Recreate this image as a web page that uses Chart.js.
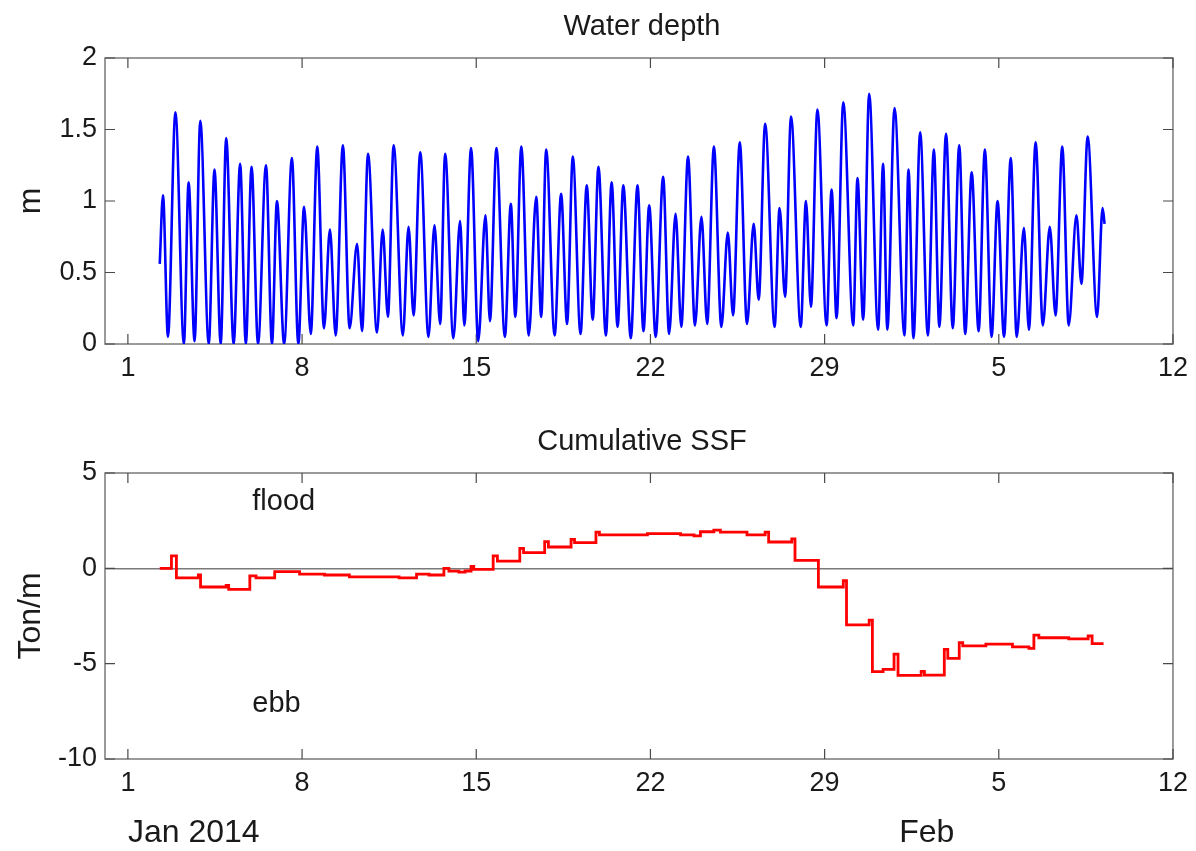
<!DOCTYPE html>
<html><head><meta charset="utf-8">
<script src="https://cdn.jsdelivr.net/npm/chart.js@4.4.1/dist/chart.umd.min.js"></script>
<style>
html,body{margin:0;padding:0;background:#fff;width:1196px;height:851px;overflow:hidden}
canvas{position:absolute;left:0}
#c1{top:0}
#c2{top:400px}
</style></head><body>
<canvas id="c1" width="1196" height="400"></canvas>
<canvas id="c2" width="1196" height="451"></canvas>
<script>
// ---------- data ----------
const xTickValues = [1, 8, 15, 22, 29, 36, 43];
const xTickLabels = ['1', '8', '15', '22', '29', '5', '12'];
const monthLabelDays = [1, 32];
const monthLabels = ['Jan 2014', 'Feb'];

const depthTicks = [0, 0.5, 1, 1.5, 2];
const ssfTicks = [-10, -5, 0, 5];

// water depth: successive tidal highs and lows (day of Jan 2014, metres)
const tideDay = [2.28,2.41,2.61,2.91,3.25,3.44,3.68,3.91,4.25,4.48,4.73,4.95,5.25,5.51,5.74,5.97,6.23,6.55,6.79,6.99,
 7.28,7.59,7.85,8.08,8.35,8.61,8.88,9.12,9.35,9.64,9.91,10.21,10.41,10.65,11.01,11.24,11.45,11.68,12.05,12.28,
 12.48,12.75,13.08,13.32,13.55,13.75,14.08,14.35,14.52,14.79,15.08,15.37,15.55,15.81,16.15,16.39,16.57,16.81,17.11,17.41,
 17.61,17.81,18.15,18.41,18.65,18.88,19.19,19.44,19.68,19.91,20.21,20.44,20.68,20.91,21.21,21.48,21.72,21.95,22.21,22.51,
 22.75,23.01,23.24,23.51,23.79,24.05,24.28,24.55,24.85,25.11,25.32,25.59,25.88,26.15,26.35,26.61,26.99,27.19,27.41,27.65,
 28.04,28.25,28.45,28.71,29.08,29.28,29.48,29.75,30.15,30.32,30.55,30.79,31.15,31.35,31.52,31.81,32.21,32.37,32.57,32.84,
 33.15,33.39,33.61,33.88,34.15,34.41,34.65,34.91,35.19,35.44,35.71,35.95,36.21,36.48,36.72,37.01,37.21,37.48,37.77,38.05,
 38.28,38.55,38.81,39.12,39.32,39.57,39.95,40.17,40.25];
const tideDepth = [0.56,1.04,0.05,1.62,0.00,1.13,0.02,1.56,0.00,1.22,0.00,1.44,0.00,1.26,0.00,1.24,0.00,1.25,0.00,1.00,
 0.00,1.30,0.00,0.96,0.07,1.38,0.11,0.80,0.06,1.39,0.11,0.70,0.09,1.33,0.08,0.80,0.19,1.39,0.06,0.82,
 0.20,1.34,0.05,0.83,0.14,1.33,0.04,0.86,0.13,1.37,0.02,0.90,0.16,1.37,0.05,0.98,0.19,1.38,0.06,1.03,
 0.19,1.36,0.06,1.05,0.14,1.31,0.07,1.11,0.17,1.24,0.06,1.13,0.12,1.11,0.04,1.11,0.09,0.97,0.05,1.17,
 0.07,0.91,0.12,1.31,0.13,0.89,0.14,1.38,0.12,0.78,0.20,1.41,0.14,0.84,0.31,1.54,0.12,0.95,0.33,1.59,
 0.12,1.00,0.26,1.64,0.13,1.08,0.18,1.69,0.13,1.16,0.17,1.75,0.10,1.26,0.10,1.65,0.06,1.22,0.04,1.48,
 0.06,1.36,0.12,1.47,0.11,1.39,0.07,1.20,0.09,1.36,0.05,1.00,0.05,1.30,0.05,0.81,0.10,1.41,0.13,0.82,
 0.20,1.38,0.13,0.90,0.42,1.45,0.19,0.95,0.84];

// cumulative SSF: day at which each new level starts (Ton/m)
const ssfDay = [2.28,2.75,2.95,3.83,3.92,4.95,5.05,5.90,6.15,6.90,7.90,8.90,9.90,11.00,11.90,12.60,13.10,13.70,13.90,14.30,
 14.55,14.79,14.90,15.68,15.85,16.75,16.90,17.75,17.90,18.81,18.95,19.81,19.95,21.88,23.21,23.75,24.01,24.55,24.81,25.88,
 26.61,26.75,27.68,27.81,28.75,29.75,29.88,30.79,30.92,31.35,31.79,31.95,32.88,33.01,33.81,33.95,34.41,34.55,35.48,36.55,
 37.21,37.41,37.61,38.81,39.59,39.75,40.21];
const ssfValue = [0.00,0.65,-0.50,-0.35,-0.98,-0.90,-1.10,-0.40,-0.50,-0.17,-0.30,-0.35,-0.45,-0.45,-0.50,-0.30,-0.35,0.00,-0.15,-0.20,
 -0.14,0.10,-0.05,0.65,0.38,1.05,0.82,1.40,1.12,1.52,1.35,1.90,1.75,1.82,1.75,1.70,1.92,2.00,1.90,1.75,
 1.90,1.38,1.55,0.42,-0.98,-0.65,-2.97,-2.72,-5.42,-5.30,-4.50,-5.61,-5.40,-5.60,-4.25,-4.72,-3.90,-4.07,-3.98,-4.12,
 -4.20,-3.50,-3.64,-3.70,-3.55,-3.95,-3.95];

const noteLabels = ['flood', 'ebb'];
const noteX = [6, 6];
const noteY = [3.5, -7.1];

// ---------- drawing ----------
const FONT = '"Liberation Sans", Arial, Helvetica, sans-serif';
const TXT = '#1a1a1a';

const boxPlugin = {
  id: 'mlBox',
  beforeDatasetsDraw(chart) {
    const {ctx, chartArea: a, scales: {x, y}} = chart;
    ctx.save();
    ctx.strokeStyle = '#7a7a7a';
    ctx.lineWidth = 1.5;
    ctx.strokeRect(a.left, a.top, a.right - a.left, a.bottom - a.top);
    ctx.strokeStyle = '#4a4a4a';
    ctx.lineWidth = 1.2;
    ctx.beginPath();
    x.ticks.forEach(t => {
      const p = x.getPixelForValue(t.value);
      ctx.moveTo(p, a.bottom); ctx.lineTo(p, a.bottom - 10);
      ctx.moveTo(p, a.top); ctx.lineTo(p, a.top + 10);
    });
    y.ticks.forEach(t => {
      const p = y.getPixelForValue(t.value);
      ctx.moveTo(a.left, p); ctx.lineTo(a.left + 10, p);
      ctx.moveTo(a.right, p); ctx.lineTo(a.right - 10, p);
    });
    ctx.stroke();
    ctx.restore();
  }
};

const textPlugin = {
  id: 'mlText',
  afterDraw(chart, args, o) {
    const {ctx, chartArea: a, scales: {x, y}} = chart;
    ctx.save();
    ctx.fillStyle = TXT;
    ctx.textBaseline = 'middle';
    ctx.textAlign = 'center';
    ctx.font = `29px ${FONT}`;
    ctx.fillText(o.title, (a.left + a.right) / 2 + 3, a.top - 31);
    ctx.save();
    ctx.translate(31, (a.top + a.bottom) / 2);
    ctx.rotate(-Math.PI / 2);
    ctx.font = `32px ${FONT}`;
    ctx.fillText(o.ylabel, 0, 0);
    ctx.restore();
    ctx.textAlign = 'left';
    ctx.font = `29px ${FONT}`;
    (o.notes || []).forEach(n => ctx.fillText(n.text, x.getPixelForValue(n.x), y.getPixelForValue(n.y)));
    ctx.font = `32px ${FONT}`;
    (o.months || []).forEach(m => ctx.fillText(m.text, x.getPixelForValue(m.x), a.bottom + 74));
    ctx.restore();
  }
};

function makeChart(id, c) {
  return new Chart(document.getElementById(id), {
    type: 'line',
    data: {datasets: [c.dataset]},
    options: {
      responsive: false,
      animation: false,
      devicePixelRatio: 1,
      layout: {padding: {left: 0, right: 19, top: c.padTop, bottom: c.padBottom}},
      plugins: {legend: {display: false}, tooltip: {enabled: false}, title: {display: false}, mlText: c.text},
      scales: {
        x: {
          type: 'linear', min: 0.08, max: 43,
          afterBuildTicks: s => { s.ticks = xTickValues.map(v => ({value: v})); },
          afterFit: s => { s.height = 40; },
          grid: {display: false, drawTicks: false},
          border: {display: false},
          ticks: {
            callback: v => { const i = xTickValues.indexOf(v); return i >= 0 ? xTickLabels[i] : ''; },
            font: {family: FONT, size: 27}, color: TXT, padding: 8, maxRotation: 0, autoSkip: false
          }
        },
        y: {
          type: 'linear', min: c.yMin, max: c.yMax,
          afterBuildTicks: s => { s.ticks = c.yTicks.map(v => ({value: v})); },
          afterFit: s => { s.width = 105; },
          grid: c.yGrid,
          border: {display: false},
          ticks: {callback: v => String(v), font: {family: FONT, size: 27}, color: TXT, padding: 8}
        }
      }
    },
    plugins: [boxPlugin, textPlugin]
  });
}

makeChart('c1', {
  padTop: 58, padBottom: 16,
  yMin: 0, yMax: 2, yTicks: depthTicks,
  yGrid: {display: false, drawTicks: false},
  dataset: {
    data: tideDay.map((d, i) => ({x: d, y: tideDepth[i]})),
    borderColor: '#0000ff', borderWidth: 2.6, pointRadius: 0,
    cubicInterpolationMode: 'monotone', fill: false
  },
  text: {title: 'Water depth', ylabel: 'm'}
});

makeChart('c2', {
  padTop: 73, padBottom: 52,
  yMin: -10, yMax: 5, yTicks: ssfTicks,
  yGrid: {
    drawTicks: false, lineWidth: 1.5,
    color: ctx => (ctx.tick && ctx.tick.value === 0) ? '#7a7a7a' : 'rgba(0,0,0,0)'
  },
  dataset: {
    data: ssfDay.map((d, i) => ({x: d, y: ssfValue[i]})),
    borderColor: '#ff0000', borderWidth: 2.8, pointRadius: 0, stepped: true, fill: false
  },
  text: {
    title: 'Cumulative SSF', ylabel: 'Ton/m',
    notes: noteLabels.map((t, i) => ({text: t, x: noteX[i], y: noteY[i]})),
    months: monthLabels.map((t, i) => ({text: t, x: monthLabelDays[i]}))
  }
});
</script>
</body></html>
